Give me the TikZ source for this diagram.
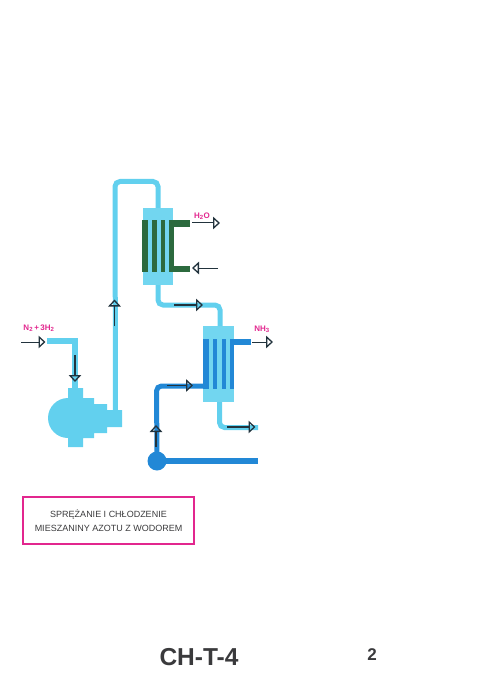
\documentclass[tikz,border=0pt]{standalone}
\usepackage{fontspec}
\setmainfont{Liberation Sans}
\usetikzlibrary{arrows.meta}
\definecolor{lightc}{HTML}{62D0EE}
\definecolor{shellc}{HTML}{72D6F0}
\definecolor{greenc}{HTML}{2C6A3E}
\definecolor{bluec}{HTML}{2288D6}
\definecolor{magc}{HTML}{E2268E}
\definecolor{arrc}{HTML}{22333D}
\definecolor{txtc}{HTML}{3A3A3C}
\tikzset{
  block/.style={rectangle,inner sep=0pt,outer sep=0pt,draw=none},
  lightpipe/.style={draw=lightc,line width=5pt,rounded corners=5pt},
  bluepipe/.style={draw=bluec,line width=5pt,rounded corners=5pt},
  flowthin/.style={draw=arrc,line width=1pt,-{Triangle[open,length=7pt,width=12.5pt,line width=1.3pt]}},
  flowbold/.style={draw=arrc,line width=1.7pt,-{Triangle[open,length=7pt,width=12.5pt,line width=1.3pt]}},
  chem/.style={inner sep=0pt,text=magc,font=\bfseries\fontsize{8}{9}\selectfont},
}
\newcommand{\blockat}[6]{\node[block,fill=#1,minimum width=#4-#3,minimum height=#6-#5] (#2) at ({(#3+#4)/2},{(#5+#6)/2}) {};}
\begin{document}
\begin{tikzpicture}[x=1pt,y=-1pt]
\useasboundingbox (0,0) rectangle (493,700);
% --- compressor
\coordinate (feedstart) at (47,341);
\coordinate (feedcorner) at (75,341);
\coordinate (compin) at (75,392);
\coordinate (compout) at (115.5,415);
\coordinate (topleft) at (115,181.5);
\coordinate (topright) at (158,181.5);
\node[circle,fill=lightc,minimum size=40pt,inner sep=0pt,outer sep=0pt] (compcircle) at (68,418) {};
\fill[lightc] (68,388) -- (83,388) -- (83,398) -- (94,398) -- (94,404) -- (107,404) -- (107,410) -- (122,410) -- (122,427) -- (107,427) -- (107,433) -- (94,433) -- (94,438) -- (83,438) -- (83,447) -- (68,447) -- cycle;
\draw[lightpipe,rounded corners=0pt,line width=6pt] (feedstart) -- (feedcorner) -- (compin);
% --- condenser
\node[block,fill=shellc,minimum width=30pt,minimum height=77pt] (cond) at (158,246.5) {};
\draw[lightpipe] (compout) -- (topleft) -- (topright) -- (cond.north -| topright);
\blockat{greenc}{ct1}{142}{148}{220}{272}
\blockat{greenc}{ct2}{152}{157}{220}{272}
\blockat{greenc}{ct3}{161}{165}{220}{272}
\blockat{greenc}{ct4}{169}{174}{220}{272}
\blockat{greenc}{chtop}{169}{190}{220}{227}
\blockat{greenc}{chbot}{169}{190}{266}{272}
% --- reactor / cooler
\node[block,fill=shellc,minimum width=31pt,minimum height=76pt] (reac) at (218.5,364) {};
\coordinate (condout) at (158,285);
\coordinate (midA) at (158,305);
\coordinate (midB) at (220,305);
\draw[lightpipe] (condout) -- (midA) -- (midB) -- (midB |- reac.north);
\coordinate (reacout) at (219.5,402);
\coordinate (lowA) at (219.5,427.5);
\coordinate (lowB) at (258,427.5);
\draw[lightpipe] (reacout) -- (lowA) -- (lowB);
\blockat{bluec}{rt1}{203}{209}{339}{389}
\blockat{bluec}{rt2}{213}{217}{339}{389}
\blockat{bluec}{rt3}{222}{226}{339}{389}
\blockat{bluec}{rt4}{230}{234}{339}{389}
\blockat{bluec}{rhead}{230}{251}{339}{344.5}
% --- pump and blue pipes
\node[circle,fill=bluec,minimum size=19pt,inner sep=0pt,outer sep=0pt] (pump) at (157,461) {};
\coordinate (pumpend) at (258,461);
\coordinate (bluecorner) at (156.5,386);
\coordinate (reacin) at (205,386);
\draw[bluepipe] (pump.center) -- (bluecorner) -- (reacin);
\draw[bluepipe,line width=6pt] (pump.center) -- (pumpend);
% --- flow arrows
\coordinate (a1s) at (21,342); \coordinate (a1e) at (45.5,342);
\coordinate (a2s) at (75,355); \coordinate (a2e) at (75,382);
\coordinate (a3s) at (114.5,326); \coordinate (a3e) at (114.5,299.5);
\coordinate (a4s) at (192,223); \coordinate (a4e) at (220,223);
\coordinate (a5s) at (218,268); \coordinate (a5e) at (192,268);
\coordinate (a6s) at (174,305); \coordinate (a6e) at (203,305);
\coordinate (a7s) at (252,342); \coordinate (a7e) at (273,342);
\coordinate (a8s) at (167,385.5); \coordinate (a8e) at (193,385.5);
\coordinate (a9s) at (227,427); \coordinate (a9e) at (255.5,427);
\coordinate (a10s) at (156,447); \coordinate (a10e) at (156,425);
\draw[flowthin] (a1s) -- (a1e);
\draw[flowbold] (a2s) -- (a2e);
\draw[flowbold] (a3s) -- (a3e);
\draw[flowthin] (a4s) -- (a4e);
\draw[flowthin] (a5s) -- (a5e);
\draw[flowbold] (a6s) -- (a6e);
\draw[flowthin] (a7s) -- (a7e);
\draw[flowbold] (a8s) -- (a8e);
\draw[flowbold] (a9s) -- (a9e);
\draw[flowbold] (a10s) -- (a10e);
% --- labels
\node[chem] (lh2o) at (202,216) {H\textsubscript{2}O};
\node[chem] (ln2) at (39,328) {N\textsubscript{2}\,+\,3H\textsubscript{2}};
\node[chem] (lnh3) at (262,329) {NH\textsubscript{3}};
\node[draw=magc,line width=1.1pt,minimum width=171pt,minimum height=47pt,inner sep=0pt,align=center,text=txtc,font=\fontsize{9}{14}\selectfont] (title) at (108.5,520.5) {SPRĘŻANIE I CHŁODZENIE\\MIESZANINY AZOTU Z WODOREM};
\node[inner sep=0pt,text=txtc,font=\bfseries\fontsize{24.5}{24}\selectfont] (code) at (199,657.5) {CH-T-4};
\node[inner sep=0pt,text=txtc,font=\bfseries\fontsize{17}{17}\selectfont] (page) at (372,655) {2};
\end{tikzpicture}
\end{document}
